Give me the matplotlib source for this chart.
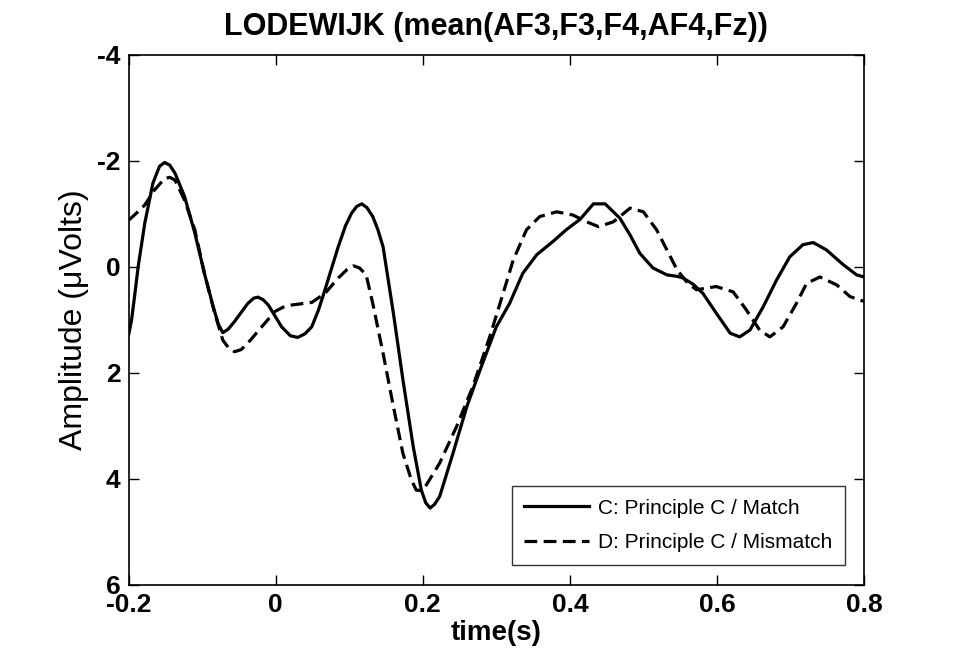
"""
ERP plot: LODEWIJK frontal mean, match vs mismatch.
"""

import matplotlib
matplotlib.use('Agg')
import matplotlib.pyplot as plt


# condition C: Principle C / Match
match_t = [-0.200, -0.196, -0.191, -0.187, -0.178, -0.167, -0.158, -0.151, -0.144,
           -0.137, -0.124, -0.110, -0.097, -0.085, -0.078, -0.072, -0.065, -0.056,
           -0.038, -0.030, -0.024, -0.017, -0.010, 0.008, 0.020, 0.030, 0.040,
           0.049, 0.058, 0.067, 0.085, 0.095, 0.103, 0.110, 0.117, 0.124,
           0.132, 0.139, 0.146, 0.160, 0.173, 0.187, 0.198, 0.204, 0.210,
           0.216, 0.223, 0.241, 0.260, 0.278, 0.300, 0.318, 0.336, 0.355,
           0.377, 0.395, 0.414, 0.432, 0.448, 0.468, 0.482, 0.495, 0.513,
           0.532, 0.547, 0.554, 0.568, 0.581, 0.599, 0.618, 0.631, 0.645,
           0.663, 0.681, 0.699, 0.717, 0.731, 0.749, 0.772, 0.790, 0.800]
match_uv = [1.28, 1.00, 0.45, -0.01, -0.83, -1.58, -1.90, -1.97, -1.92,
            -1.77, -1.33, -0.64, 0.12, 0.75, 1.08, 1.24, 1.18, 1.03,
            0.69, 0.59, 0.57, 0.62, 0.72, 1.13, 1.30, 1.33, 1.26,
            1.13, 0.82, 0.43, -0.38, -0.78, -1.01, -1.14, -1.19, -1.12,
            -0.95, -0.70, -0.38, 0.87, 2.13, 3.39, 4.21, 4.45, 4.55,
            4.48, 4.33, 3.52, 2.63, 1.94, 1.13, 0.69, 0.12, -0.23,
            -0.48, -0.70, -0.90, -1.19, -1.19, -0.92, -0.60, -0.26, 0.02,
            0.15, 0.18, 0.21, 0.33, 0.50, 0.87, 1.25, 1.32, 1.19,
            0.75, 0.25, -0.19, -0.42, -0.46, -0.32, -0.04, 0.15, 0.19]

# condition D: Principle C / Mismatch
mismatch_t = [-0.200, -0.189, -0.178, -0.165, -0.151, -0.144, -0.137, -0.124, -0.110,
              -0.097, -0.083, -0.072, -0.064, -0.056, -0.047, -0.038, -0.019, -0.001,
              0.010, 0.021, 0.049, 0.067, 0.085, 0.097, 0.106, 0.114, 0.123,
              0.132, 0.146, 0.160, 0.173, 0.184, 0.191, 0.198, 0.205, 0.223,
              0.246, 0.268, 0.291, 0.305, 0.323, 0.341, 0.359, 0.382, 0.404,
              0.423, 0.439, 0.459, 0.482, 0.500, 0.518, 0.532, 0.546, 0.560,
              0.572, 0.586, 0.599, 0.622, 0.640, 0.658, 0.672, 0.690, 0.708,
              0.722, 0.740, 0.763, 0.781, 0.800]
mismatch_uv = [-0.88, -1.02, -1.17, -1.45, -1.67, -1.69, -1.64, -1.26, -0.70,
               0.12, 0.87, 1.38, 1.53, 1.60, 1.56, 1.44, 1.13, 0.84,
               0.76, 0.72, 0.67, 0.50, 0.21, 0.05, -0.02, 0.02, 0.15,
               0.69, 1.63, 2.63, 3.52, 4.00, 4.21, 4.22, 4.11, 3.70,
               3.01, 2.26, 1.32, 0.69, -0.13, -0.70, -0.95, -1.04, -0.98,
               -0.85, -0.76, -0.85, -1.11, -1.04, -0.70, -0.32, 0.06, 0.30,
               0.43, 0.40, 0.37, 0.47, 0.81, 1.19, 1.32, 1.13, 0.69,
               0.31, 0.19, 0.34, 0.56, 0.65]

x_ticks = [-0.2, 0, 0.2, 0.4, 0.6, 0.8]
x_tick_labels = ['-0.2', '0', '0.2', '0.4', '0.6', '0.8']
y_ticks = [-4, -2, 0, 2, 4, 6]
y_tick_labels = ['-4', '-2', '0', '2', '4', '6']

plt.rcParams['font.family'] = ['Liberation Sans', 'DejaVu Sans']

fig = plt.figure(figsize=(9.6, 6.7), dpi=100)
ax = fig.add_axes([0.134, 0.127, 0.766, 0.791])

ax.plot(match_t, match_uv, color='black', lw=2.3, label='C: Principle C / Match')
ax.plot(mismatch_t, mismatch_uv, color='black', lw=2.3, dashes=(4, 2),
        label='D: Principle C / Mismatch')

ax.set_xlim(-0.2, 0.8)
ax.set_ylim(6, -4)  # negative up, ERP convention
ax.set_xticks(x_ticks)
ax.set_xticklabels(x_tick_labels, fontsize=19, fontweight='bold')
ax.set_yticks(y_ticks)
ax.set_yticklabels(y_tick_labels, fontsize=19, fontweight='bold')
ax.tick_params(direction='in', length=7, width=1, top=True, right=True, pad=6)
for s in ax.spines.values():
    s.set_linewidth(1.2)

ax.set_title('LODEWIJK (mean(AF3,F3,F4,AF4,Fz))', fontsize=22, fontweight='bold', pad=14)
ax.set_xlabel('time(s)', fontsize=20, fontweight='bold', labelpad=2)
ax.set_ylabel('Amplitude (\u03bcVolts)', fontsize=23, labelpad=6)

leg = ax.legend(loc='lower right', bbox_to_anchor=(0.974, 0.038), borderaxespad=0,
                fontsize=15, handlelength=3.1, handletextpad=0.45, labelspacing=0.75,
                borderpad=0.6, fancybox=False, frameon=True)
leg.get_frame().set_edgecolor('black')
leg.get_frame().set_linewidth(1.0)

plt.savefig('out.png', dpi=100)
